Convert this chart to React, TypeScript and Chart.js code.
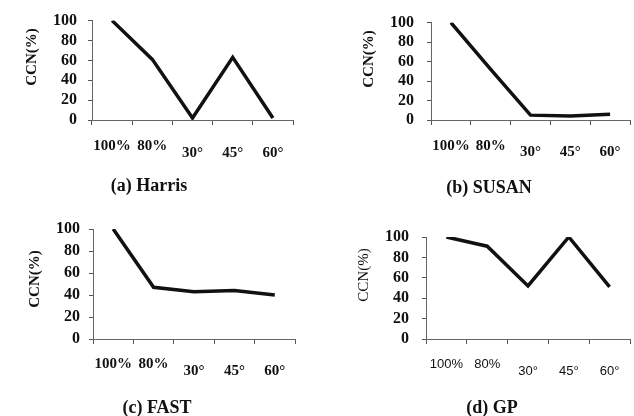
import React, { useEffect, useRef } from 'react';
import { Chart, registerables } from 'chart.js';

Chart.register(...registerables);

const categories = ['100%', '80%', '30°', '45°', '60°'];
const harris = [100, 61, 2, 63, 2];
const susan = [100, 52, 5, 4, 6];
const fast = [100, 47, 43, 44, 40];
const gp = [100, 91, 52, 100, 51];
const yTickValues = [0, 20, 40, 60, 80, 100];
const yTitle = 'CCN(%)';

type PanelCfg = {
  title: string; data: number[]; x: number; y: number;
  left: number; top: number; right: number; bottom: number;
  row1: number; row2: number; titleX: number; titleY: number;
  yTitleX: number; yTitleY: number; gap: number; sans: boolean;
};

const panels: PanelCfg[] = [
  { title: '(a) Harris', data: harris, x: 0, y: 0, left: 92, top: 17, right: 293, bottom: 120, row1: 146, row2: 153, titleX: 149, titleY: 186, yTitleX: 32, yTitleY: 57, gap: 11, sans: false },
  { title: '(b) SUSAN', data: susan, x: 317, y: 0, left: 114, top: 16, right: 313, bottom: 120, row1: 146, row2: 152, titleX: 172, titleY: 188, yTitleX: 52, yTitleY: 59, gap: 13, sans: false },
  { title: '(c) FAST', data: fast, x: 0, y: 208, left: 93, top: 21, right: 295, bottom: 131, row1: 156, row2: 163, titleX: 157, titleY: 200, yTitleX: 35, yTitleY: 71, gap: 9, sans: false },
  { title: '(d) GP', data: gp, x: 317, y: 208, left: 109, top: 29, right: 313, bottom: 131, row1: 156, row2: 163, titleX: 175, titleY: 200, yTitleX: 47, yTitleY: 67, gap: 13, sans: true },
];

const W = 317;
const H = 208;
const XH = 10;
const SERIF = '"Liberation Serif", "Times New Roman", serif';

function Panel({ p }: { p: PanelCfg }) {
  const ref = useRef<HTMLCanvasElement>(null);
  useEffect(() => {
    const canvas = ref.current!;
    const textPlugin = {
      id: 'panelText',
      afterDraw(chart: any) {
        const ctx = chart.ctx;
        const xs = chart.scales.x;
        ctx.save();
        ctx.fillStyle = '#111';
        ctx.textAlign = 'center';
        ctx.textBaseline = 'middle';
        ctx.font = p.sans ? '13px "Liberation Sans", Arial, sans-serif' : 'bold 15px ' + SERIF;
        categories.forEach((c, i) => {
          const px = xs.getPixelForValue(i);
          ctx.fillText(c, px, i < 2 ? p.row1 : p.row2);
        });
        ctx.font = 'bold 18px ' + SERIF;
        ctx.fillText(p.title, p.titleX, p.titleY);
        ctx.translate(p.yTitleX, p.yTitleY);
        ctx.rotate(-Math.PI / 2);
        ctx.font = (p.sans ? '' : 'bold ') + '15px ' + SERIF;
        ctx.fillText(yTitle, 0, 0);
        ctx.restore();
      },
    };
    const chart = new Chart(canvas, {
      type: 'line',
      data: {
        labels: categories,
        datasets: [{
          data: p.data,
          borderColor: '#111',
          borderWidth: 3.5,
          pointRadius: 0,
          tension: 0,
          fill: false,
        }],
      },
      options: {
        animation: false,
        responsive: false,
        devicePixelRatio: 1,
        layout: { padding: { left: 0, top: p.top, right: W - p.right, bottom: H - p.bottom - XH } },
        plugins: { legend: { display: false }, tooltip: { enabled: false }, title: { display: false } },
        scales: {
          x: {
            type: 'category',
            offset: true,
            grid: { offset: true, drawOnChartArea: false, drawTicks: true, tickLength: 5, color: '#555' },
            border: { display: true, color: '#666', width: 1, dash: [1, 1] },
            ticks: { display: false },
            afterFit: (s: any) => { s.height = XH; },
          },
          y: {
            min: 0,
            max: 100,
            grid: { drawOnChartArea: false, drawTicks: true, tickLength: 4, color: '#555' },
            border: { display: true, color: '#666', width: 1, dash: [1, 1] },
            ticks: { autoSkip: false, padding: p.gap, color: '#111', font: { family: SERIF, size: 16, weight: 'bold' } },
            afterBuildTicks: (s: any) => { s.ticks = yTickValues.map((v) => ({ value: v })); },
            afterFit: (s: any) => { s.width = p.left; },
          },
        },
      },
      plugins: [textPlugin],
    } as any);
    return () => chart.destroy();
  }, [p]);
  return (
    <canvas
      ref={ref}
      width={W}
      height={H}
      style={{ position: 'absolute', left: p.x, top: p.y, width: W, height: H }}
    />
  );
}

export default function App() {
  return (
    <div style={{ position: 'fixed', left: 0, top: 0, width: 634, height: 416, background: '#fff' }}>
      {panels.map((p) => <Panel key={p.title} p={p} />)}
    </div>
  );
}
